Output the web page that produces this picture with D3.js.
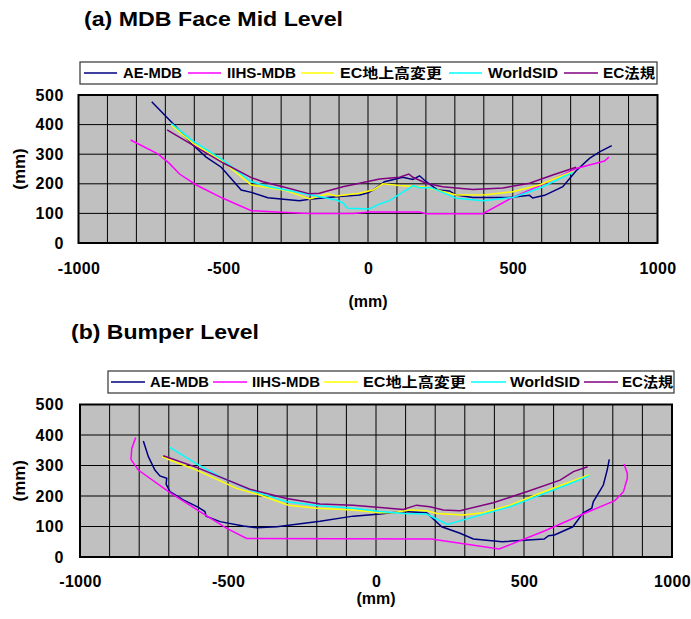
<!DOCTYPE html>
<html><head><meta charset="utf-8">
<script src="https://cdn.jsdelivr.net/npm/d3@7"></script>
<style>
body{margin:0;background:#fff;}
text{font-family:"Liberation Sans","Noto Sans CJK JP",Arial,sans-serif;font-weight:bold;fill:#000;}
</style></head>
<body><svg id="c" width="691" height="619"></svg>
<script>
// ---- data ----
const seriesNames = ["AE-MDB","IIHS-MDB","EC地上高変更","WorldSID","EC法規"];
const seriesColors = ["#000080","#FF00FF","#FFFF00","#00FFFF","#800080"];
const xTicks = [-1000,-500,0,500,1000];
const yTicks = [0,100,200,300,400,500];
const chartTitles = ["(a) MDB Face Mid Level","(b) Bumper Level"];

const topAeMdb = [[-747,477],[-674,404],[-605,331],[-559,290],[-507,256],[-438,179],[-403,171],[-346,153],[-237,143],[-202,148],[-110,156],[-29,162],[0,170],[17,179],[57,207],[120,222],[155,215],[178,227],[201,207],[241,179],[281,176],[305,162],[362,154],[489,154],[558,161],[569,152],[610,161],[673,190],[719,244],[765,286],[800,308],[842,329]];
const topIihsMdb = [[-820,348],[-726,301],[-686,269],[-651,233],[-593,196],[-501,151],[-403,109],[-317,105],[-202,100],[-52,100],[5,105],[178,105],[201,99],[397,99],[500,154],[592,193],[719,252],[817,277],[832,290]];
const topEcHeight = [[-680,399],[-605,337],[-501,275],[-403,196],[-352,188],[-283,177],[-202,149],[-139,166],[-110,159],[-29,168],[17,179],[51,200],[120,193],[201,188],[305,162],[408,163],[500,173],[592,196],[661,224],[707,241]];
const topWorldSid = [[-680,404],[-605,345],[-501,280],[-403,207],[-340,190],[-225,168],[-110,145],[-87,136],[-70,117],[5,115],[40,132],[74,143],[155,193],[178,187],[218,187],[305,151],[397,143],[500,154],[592,185],[707,238]];
const topEcReg = [[-694,382],[-605,331],[-501,271],[-403,221],[-363,207],[-294,190],[-202,166],[-168,168],[-87,190],[-29,202],[40,216],[109,222],[141,233],[155,222],[201,202],[258,190],[362,181],[466,186],[558,202],[638,230],[719,256]];

const botAeMdb = [[-786,380],[-769,329],[-747,285],[-730,266],[-707,258],[-709,239],[-696,214],[-651,187],[-600,163],[-578,149],[-574,134],[-527,116],[-448,102],[-403,96],[-335,99],[-189,117],[-77,134],[14,141],[92,149],[171,145],[222,99],[284,78],[329,59],[426,50],[568,59],[583,70],[603,72],[665,99],[700,145],[729,160],[734,181],[768,236],[781,285],[788,320]];
const botIihsMdb = [[-812,392],[-825,356],[-828,320],[-803,285],[-696,211],[-595,149],[-504,94],[-437,61],[187,59],[416,26],[571,86],[700,141],[807,185],[836,214],[849,258],[849,274],[838,305]];
const botEcHeight = [[-722,329],[-696,318],[-606,285],[-471,225],[-392,203],[-296,170],[-200,160],[-77,154],[14,145],[58,145],[115,154],[171,152],[205,143],[295,138],[362,145],[453,170],[554,209],[644,242],[720,269]];
const botWorldSid = [[-698,360],[-600,302],[-516,258],[-426,220],[-302,181],[-189,168],[-77,160],[14,149],[92,143],[171,141],[199,127],[241,107],[340,134],[453,165],[554,203],[644,236],[720,266]];
const botEcReg = [[-719,332],[-606,294],[-426,222],[-302,192],[-189,174],[-77,170],[14,162],[92,156],[137,170],[182,165],[227,154],[284,152],[396,178],[509,214],[622,252],[667,280],[715,296]];

// ---- layout ----
const svg = d3.select("#c");
const charts = [
  {title:chartTitles[0], tx:84, ty:26, tw:259,
   x0:78.5, x1:657.5, yTop:95, yBot:243,
   legend:{x0:80,x1:657,y0:62,y1:84, items:[[84,117,123,182],[188,221,227,296],[301,334,340,442],[449,482,488,558],[564,598,603,655]]},
   xLabY:275, xTitleY:307, yLabX:64, yTitleX:25,
   series:[topAeMdb,topIihsMdb,topEcHeight,topWorldSid,topEcReg]},
  {title:chartTitles[1], tx:71, ty:339, tw:188,
   x0:80, x1:672, yTop:404.5, yBot:557,
   legend:{x0:108,x1:674,y0:371,y1:393, items:[[111,145,150,209],[213,247,252,320],[324,358,363,466],[471,506,510,580],[584,618,622,673]]},
   xLabY:588, xTitleY:604, yLabX:64, yTitleX:25,
   series:[botAeMdb,botIihsMdb,botEcHeight,botWorldSid,botEcReg]}
];

charts.forEach(c=>{
  const x = d3.scaleLinear().domain([-1000,1000]).range([c.x0,c.x1]);
  const y = d3.scaleLinear().domain([0,500]).range([c.yBot,c.yTop]);
  const g = svg.append("g");
  // title
  g.append("text").attr("x",c.tx).attr("y",c.ty).attr("font-size",20)
    .attr("textLength",c.tw).attr("lengthAdjust","spacingAndGlyphs").text(c.title);
  // legend
  const L = c.legend;
  g.append("rect").attr("x",L.x0).attr("y",L.y0).attr("width",L.x1-L.x0).attr("height",L.y1-L.y0)
    .attr("fill","#fff").attr("stroke","#333").attr("stroke-width",1.2);
  const ly = (L.y0+L.y1)/2;
  L.items.forEach((it,i)=>{
    g.append("line").attr("x1",it[0]).attr("x2",it[1]).attr("y1",ly).attr("y2",ly)
      .attr("stroke",seriesColors[i]).attr("stroke-width",1.5);
    g.append("text").attr("x",it[2]).attr("y",ly+5).attr("font-size",14)
      .attr("textLength",it[3]-it[2]).attr("lengthAdjust","spacingAndGlyphs").text(seriesNames[i]);
  });
  // plot background
  g.append("rect").attr("x",c.x0).attr("y",c.yTop).attr("width",c.x1-c.x0).attr("height",c.yBot-c.yTop).attr("fill","#C0C0C0");
  // grid
  const gx = d3.range(-1000,1001,100), gy = d3.range(0,501,100);
  g.selectAll(null).data(gx).enter().append("line")
    .attr("x1",d=>x(d)).attr("x2",d=>x(d)).attr("y1",c.yTop).attr("y2",c.yBot).attr("stroke","#000").attr("stroke-width",1);
  g.selectAll(null).data(gy).enter().append("line")
    .attr("x1",c.x0).attr("x2",c.x1).attr("y1",d=>y(d)).attr("y2",d=>y(d)).attr("stroke","#000").attr("stroke-width",1);
  // series
  const line = d3.line().x(d=>x(d[0])).y(d=>y(d[1]));
  c.series.forEach((s,i)=>{
    g.append("path").attr("d",line(s)).attr("fill","none").attr("stroke",seriesColors[i]).attr("stroke-width",1.5);
  });
  // frame
  g.append("rect").attr("x",c.x0).attr("y",c.yTop).attr("width",c.x1-c.x0).attr("height",c.yBot-c.yTop)
    .attr("fill","none").attr("stroke","#000").attr("stroke-width",2);
  // axes (ticks hidden, labels only)
  const fmt = d=>String(d);
  const xa = g.append("g").attr("transform",`translate(0,${c.xLabY-12})`)
    .call(d3.axisBottom(x).tickValues(xTicks).tickFormat(fmt).tickSize(0).tickPadding(0));
  xa.select(".domain").remove();
  xa.selectAll("text").attr("font-size",16).attr("dy","0.71em").attr("font-family",null).style("letter-spacing","0.3px");
  const ya = g.append("g").attr("transform",`translate(${c.yLabX},0)`)
    .call(d3.axisLeft(y).tickValues(yTicks).tickFormat(fmt).tickSize(0).tickPadding(0));
  ya.select(".domain").remove();
  ya.selectAll("text").attr("font-size",16).attr("font-family",null).style("letter-spacing","0.6px");
  g.append("text").attr("x",(c.x0+c.x1)/2).attr("y",c.xTitleY).attr("text-anchor","middle").attr("font-size",16).text("(mm)");
  g.append("text").attr("transform",`translate(${c.yTitleX},${(c.yTop+c.yBot)/2}) rotate(-90)`)
    .attr("text-anchor","middle").attr("font-size",17).text("(mm)");
});
</script></body></html>
